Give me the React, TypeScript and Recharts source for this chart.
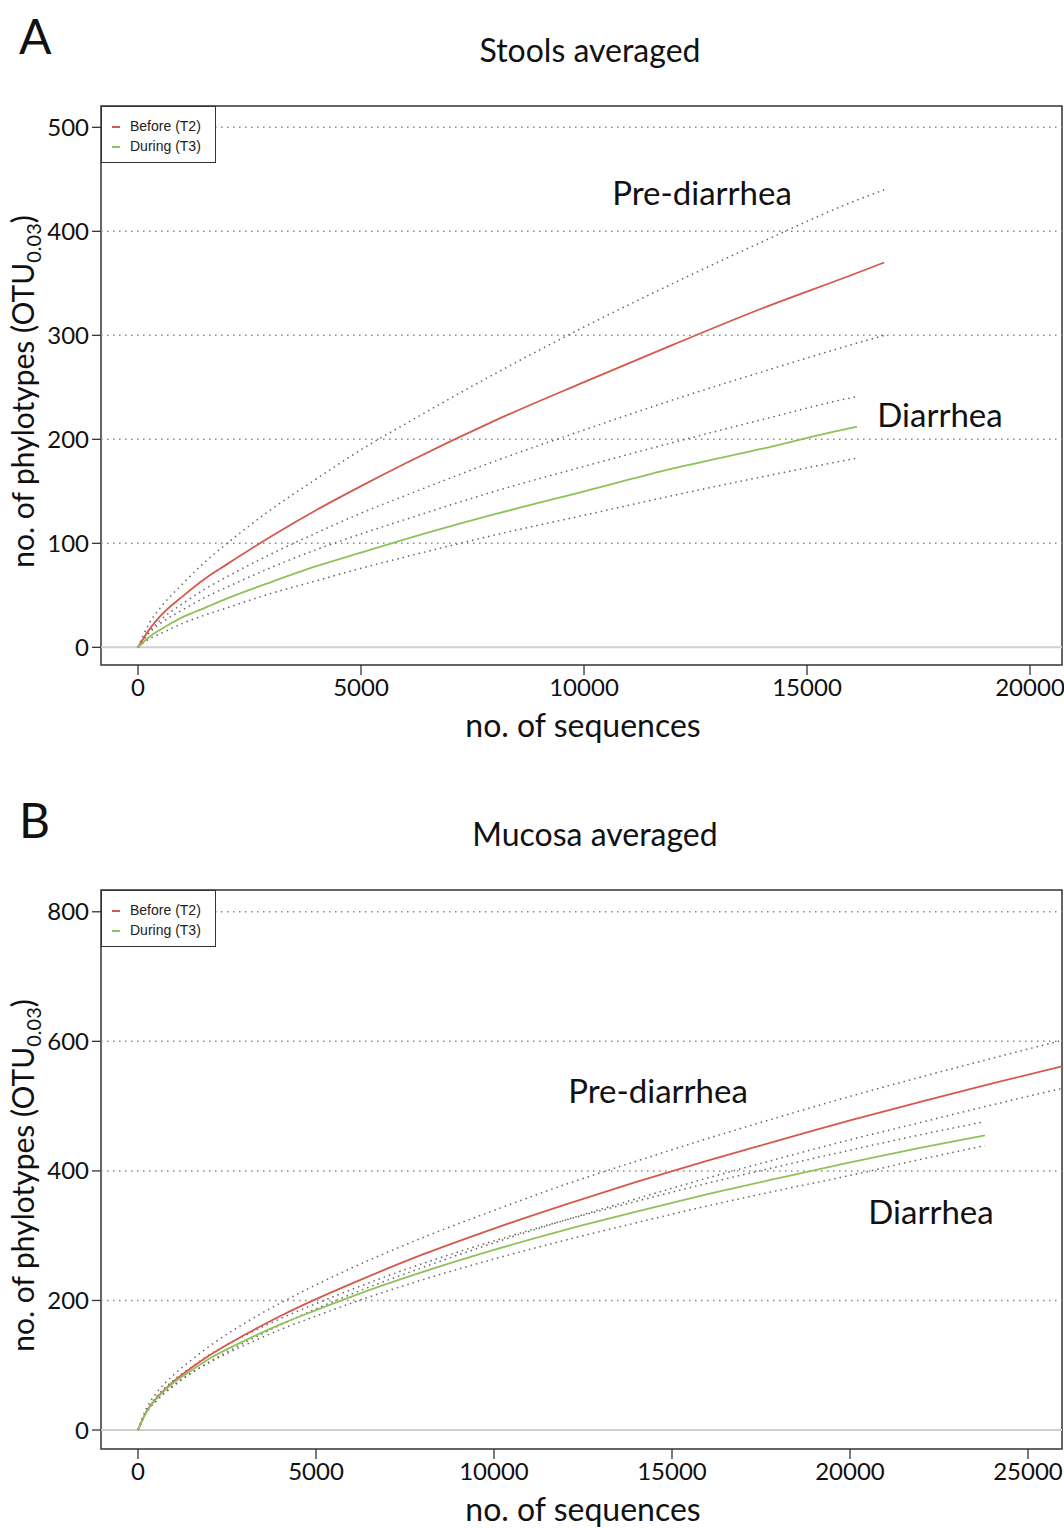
import React from 'react'
import { LineChart, Line, XAxis, YAxis, ReferenceLine, ReferenceArea } from 'recharts'

// Panel A – stools
const seqStoolPre = [0, 250, 500, 1000, 1500, 2000, 3000, 4000, 5000, 6000, 8000, 10000, 12000, 14000, 16000, 16730]
const stoolPreMean = [0, 17, 30, 49, 66, 80, 107, 132, 155, 177, 218, 255, 291, 326, 358, 370]
const stoolPreUpper = [0, 23, 38, 61, 82, 100, 133, 162, 190, 215, 263, 308, 350, 390, 428, 440]
const stoolPreLower = [0, 15, 26, 42, 56, 68, 90, 110, 129, 146, 179, 209, 238, 265, 291, 300]

const seqStoolDia = [0, 250, 500, 1000, 1500, 2000, 3000, 4000, 5000, 6000, 8000, 10000, 12000, 14000, 16000, 16120]
const stoolDiaMean = [0, 10, 17, 29, 38, 47, 63, 78, 91, 104, 128, 150, 172, 191, 211, 212]
const stoolDiaUpper = [0, 14, 23, 36, 48, 58, 77, 94, 109, 123, 150, 174, 197, 219, 240, 241]
const stoolDiaLower = [0, 8, 13, 23, 31, 38, 52, 64, 76, 87, 108, 127, 146, 164, 181, 182]

// Panel B – mucosa
const seqMucPre = [0, 250, 500, 1000, 1500, 2000, 3000, 4000, 5000, 6000, 8000, 10000, 12000, 14000, 16000, 18000, 20000, 22000, 24000, 26000]
const mucPreMean = [0, 30, 48, 75, 96, 115, 147, 176, 202, 226, 271, 311, 348, 383, 416, 447, 478, 507, 535, 562]
const mucPreUpper = [0, 35, 56, 85, 108, 129, 165, 196, 224, 250, 297, 339, 379, 415, 450, 483, 515, 545, 574, 602]
const mucPreLower = [0, 28, 44, 68, 88, 105, 135, 162, 187, 210, 251, 289, 324, 357, 389, 419, 448, 475, 502, 528]

const seqMucDia = [0, 250, 500, 1000, 1500, 2000, 3000, 4000, 5000, 6000, 8000, 10000, 12000, 14000, 16000, 18000, 20000, 22000, 23790]
const mucDiaMean = [0, 29, 47, 73, 92, 110, 138, 163, 185, 206, 244, 278, 309, 337, 364, 389, 413, 436, 455]
const mucDiaUpper = [0, 31, 50, 77, 97, 116, 146, 172, 195, 217, 257, 292, 324, 353, 381, 407, 432, 456, 476]
const mucDiaLower = [0, 28, 45, 69, 88, 104, 131, 155, 176, 196, 232, 264, 293, 320, 346, 370, 393, 418, 439]

const xTicksA = [0, 5000, 10000, 15000, 20000]
const yTicksA = [0, 100, 200, 300, 400, 500]
const xTicksB = [0, 5000, 10000, 15000, 20000, 25000]
const yTicksB = [0, 200, 400, 600, 800]

const RED = '#d6584c'
const GREEN = '#8ec35a'
const FONT = 'Lato, "Open Sans", sans-serif'

const zip = (xs: number[], ys: number[]) => xs.map((x, i) => ({ x, y: ys[i] }))

type Series = { pre: [number[], number[], number[], number[]]; dia: [number[], number[], number[], number[]] }

interface PanelProps {
  top: number
  letter: string
  title: string
  titleX: number
  xDomain: [number, number]
  yDomain: [number, number]
  xTicks: number[]
  yTicks: number[]
  series: Series
  preLabel: [number, number]
  diaLabel: [number, number]
}

const LegendRow = ({ color, label, y }: { color: string; label: string; y: number }) => (
  <div style={{ position: 'absolute', left: 10, top: y, height: 17, lineHeight: '17px' }}>
    <div style={{ position: 'absolute', left: 0, top: 8, width: 8, height: 2, background: color }} />
    <span style={{ marginLeft: 18 }}>{label}</span>
  </div>
)

const Panel = ({ top, letter, title, titleX, xDomain, yDomain, xTicks, yTicks, series, preLabel, diaLabel }: PanelProps) => {
  const [sp, pm, pu, pl] = series.pre
  const [sd, dm, du, dl] = series.dia
  const dotted = { stroke: '#666', strokeWidth: 1.5, strokeDasharray: '1.5 4', dot: false, isAnimationActive: false, type: 'monotone' as const }
  const textBase: React.CSSProperties = { position: 'absolute', fontFamily: FONT, color: '#111', whiteSpace: 'nowrap' }
  return (
    <div style={{ position: 'absolute', left: 0, top, width: 1064, height: 740 }}>
      <div style={{ ...textBase, left: 19, top: 6, fontSize: 48, lineHeight: '60px' }}>{letter}</div>
      <div style={{ ...textBase, left: titleX - 200, width: 400, top: 31, fontSize: 32, textAlign: 'center', lineHeight: '38px' }}>{title}</div>
      <LineChart width={1064} height={740} margin={{ top: 106, right: 2, left: 41, bottom: 35 }}>
        <XAxis
          type="number"
          dataKey="x"
          domain={xDomain}
          ticks={xTicks}
          allowDataOverflow
          axisLine={false}
          tickLine={{ stroke: '#333', strokeWidth: 1.3 }}
          tickSize={10}
          tickMargin={4}
          height={40}
          tick={{ fill: '#111', fontSize: 24, fontFamily: FONT }}
        />
        <YAxis
          type="number"
          domain={yDomain}
          ticks={yTicks}
          allowDataOverflow
          axisLine={false}
          tickLine={{ stroke: '#333', strokeWidth: 1.3 }}
          tickSize={9}
          tickMargin={3}
          width={60}
          tick={{ fill: '#111', fontSize: 24, fontFamily: FONT }}
        />
        {yTicks.filter((v) => v !== 0).map((v) => (
          <ReferenceLine key={v} y={v} stroke="#888" strokeWidth={1.5} strokeDasharray="1.5 4.5" />
        ))}
        <ReferenceLine y={0} stroke="#cfcfcf" strokeWidth={2} />
        <ReferenceArea x1={xDomain[0]} x2={xDomain[1]} y1={yDomain[0]} y2={yDomain[1]} fill="none" fillOpacity={0} stroke="#333" strokeWidth={1.5} />
        <Line data={zip(sp, pu)} dataKey="y" {...dotted} />
        <Line data={zip(sp, pl)} dataKey="y" {...dotted} />
        <Line data={zip(sd, du)} dataKey="y" {...dotted} />
        <Line data={zip(sd, dl)} dataKey="y" {...dotted} />
        <Line data={zip(sp, pm)} dataKey="y" type="monotone" stroke={RED} strokeWidth={1.8} dot={false} isAnimationActive={false} />
        <Line data={zip(sd, dm)} dataKey="y" type="monotone" stroke={GREEN} strokeWidth={1.8} dot={false} isAnimationActive={false} />
      </LineChart>
      <div
        style={{
          position: 'absolute', left: 101, top: 106, width: 115, height: 57, background: '#fff',
          border: '1.5px solid #333', boxSizing: 'border-box', fontFamily: '"Liberation Sans", Arial, sans-serif', fontSize: 14, color: '#222',
        }}
      >
        <LegendRow color={RED} label="Before (T2)" y={11} />
        <LegendRow color={GREEN} label="During (T3)" y={31} />
      </div>
      <div style={{ ...textBase, left: 583 - 150, width: 300, top: 710, fontSize: 32, textAlign: 'center', lineHeight: '30px' }}>no. of sequences</div>
      <div
        style={{
          ...textBase, left: 27 - 200, width: 400, top: 386 - 20, fontSize: 30, textAlign: 'center', lineHeight: '40px', transform: 'rotate(-90deg)',
        }}
      >
        no. of phylotypes (OTU<sub style={{ fontSize: 20 }}>0.03</sub>)
      </div>
      <div style={{ ...textBase, left: preLabel[0] - 120, width: 240, top: preLabel[1] - 20, fontSize: 33, textAlign: 'center', lineHeight: '40px' }}>Pre-diarrhea</div>
      <div style={{ ...textBase, left: diaLabel[0] - 100, width: 200, top: diaLabel[1] - 20, fontSize: 33, textAlign: 'center', lineHeight: '40px' }}>Diarrhea</div>
    </div>
  )
}

export default function App() {
  return (
    <div style={{ position: 'absolute', left: 0, top: 0, width: 1064, height: 1528, background: '#fff', overflow: 'hidden' }}>
      <Panel
        top={0}
        letter="A"
        title="Stools averaged"
        titleX={590}
        xDomain={[-830, 20717]}
        yDomain={[-17, 520.5]}
        xTicks={xTicksA}
        yTicks={yTicksA}
        series={{ pre: [seqStoolPre, stoolPreMean, stoolPreUpper, stoolPreLower], dia: [seqStoolDia, stoolDiaMean, stoolDiaUpper, stoolDiaLower] }}
        preLabel={[702, 192]}
        diaLabel={[940, 414]}
      />
      <Panel
        top={784}
        letter="B"
        title="Mucosa averaged"
        titleX={595}
        xDomain={[-1039, 25955]}
        yDomain={[-29.3, 833.6]}
        xTicks={xTicksB}
        yTicks={yTicksB}
        series={{ pre: [seqMucPre, mucPreMean, mucPreUpper, mucPreLower], dia: [seqMucDia, mucDiaMean, mucDiaUpper, mucDiaLower] }}
        preLabel={[658, 1090 - 784]}
        diaLabel={[931, 1211 - 784]}
      />
    </div>
  )
}
